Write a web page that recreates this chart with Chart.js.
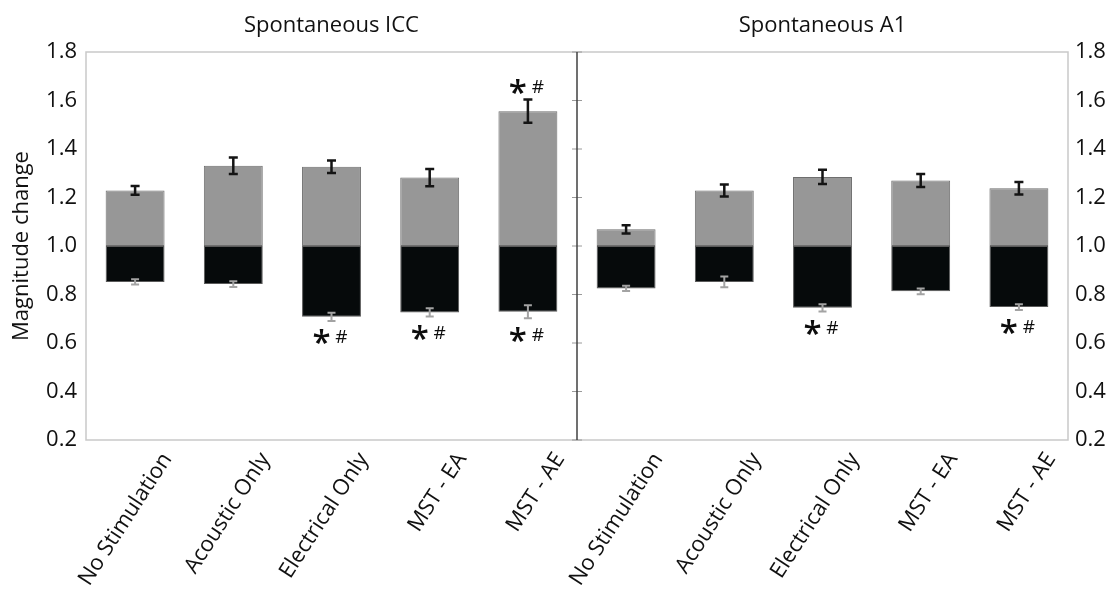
<!DOCTYPE html>
<html><head><meta charset="utf-8">
<script src="https://cdn.jsdelivr.net/npm/chart.js@4"></script>
<style>html,body{margin:0;padding:0;background:#fff;overflow:hidden;}</style>
</head><body>
<canvas id="c" width="1117" height="603"></canvas>
<script>
const categories = ["No Stimulation","Acoustic Only","Electrical Only","MST - EA","MST - AE"];
const panelTitles = ["Spontaneous ICC","Spontaneous A1"];
const iccIncrease    = [1.229,1.331,1.327,1.282,1.556];
const iccIncreaseErr = [0.018,0.034,0.026,0.036,0.048];
const iccDecrease    = [0.852,0.843,0.708,0.726,0.729];
const iccDecreaseErr = [0.011,0.012,0.017,0.017,0.027];
const a1Increase     = [1.069,1.229,1.285,1.270,1.238];
const a1IncreaseErr  = [0.017,0.025,0.029,0.027,0.026];
const a1Decrease     = [0.825,0.852,0.745,0.813,0.748];
const a1DecreaseErr  = [0.011,0.022,0.015,0.012,0.012];
const iccSigIncrease = [false,false,false,false,true];
const iccSigDecrease = [false,false,true,true,true];
const a1SigIncrease  = [false,false,false,false,false];
const a1SigDecrease  = [false,false,true,false,true];
const yTicks = [0.2,0.4,0.6,0.8,1.0,1.2,1.4,1.6,1.8];
const baseline = 1.0;
const yTitle = "Magnitude change";

const FONT = "'Open Sans', 'Noto Sans', sans-serif";
const TEXT = '#111111';
const allLabels = categories.concat(categories);
const incAll = iccIncrease.concat(a1Increase);
const incErrAll = iccIncreaseErr.concat(a1IncreaseErr);
const decAll = iccDecrease.concat(a1Decrease);
const decErrAll = iccDecreaseErr.concat(a1DecreaseErr);
const sigIncAll = iccSigIncrease.concat(a1SigIncrease);
const sigDecAll = iccSigDecrease.concat(a1SigDecrease);

function drawSig(ctx, x, y) {
  ctx.save();
  ctx.fillStyle = '#0d0d0d';
  ctx.textAlign = 'center';
  ctx.textBaseline = 'alphabetic';
  ctx.font = "600 33px " + FONT;
  let m = ctx.measureText('*');
  ctx.fillText('*', x - 10, y + (m.actualBoundingBoxAscent - m.actualBoundingBoxDescent) / 2);
  ctx.font = "19px " + FONT;
  m = ctx.measureText('#');
  ctx.fillText('#', x + 10, y + (m.actualBoundingBoxAscent - m.actualBoundingBoxDescent) / 2);
  ctx.restore();
}

const overlay = {
  id: 'overlay',
  beforeDatasetsDraw(chart) {
    const ctx = chart.ctx, a = chart.chartArea;
    const xs = chart.scales.x, ys = chart.scales.y;
    ctx.save();
    ctx.strokeStyle = '#c9c9c9';
    ctx.lineWidth = 1.5;
    ctx.strokeRect(a.left, a.top, a.right - a.left, a.bottom - a.top);
    const xd = (xs.getPixelForValue(4) + xs.getPixelForValue(5)) / 2;
    ctx.strokeStyle = '#9a9a9a';
    ctx.lineWidth = 1;
    yTicks.forEach(v => {
      const yy = ys.getPixelForValue(v);
      ctx.beginPath(); ctx.moveTo(xd - 5, yy); ctx.lineTo(xd + 5, yy); ctx.stroke();
    });
    ctx.strokeStyle = '#404040';
    ctx.lineWidth = 1.5;
    ctx.beginPath(); ctx.moveTo(xd, a.top); ctx.lineTo(xd, a.bottom); ctx.stroke();
    ctx.fillStyle = TEXT;
    ctx.font = "22px " + FONT;
    ctx.textAlign = 'center';
    ctx.textBaseline = 'middle';
    ctx.fillText(panelTitles[0], (a.left + xd) / 2, 26);
    ctx.fillText(panelTitles[1], (xd + a.right) / 2, 26);
    ctx.restore();
  },
  afterDatasetsDraw(chart) {
    const ctx = chart.ctx;
    const xs = chart.scales.x, ys = chart.scales.y;
    ctx.save();
    for (let k = 0; k < allLabels.length; k++) {
      const x = xs.getPixelForValue(k);
      let yTop = ys.getPixelForValue(incAll[k] + incErrAll[k]);
      let yBot = ys.getPixelForValue(incAll[k] - incErrAll[k]);
      ctx.strokeStyle = '#141414'; ctx.lineWidth = 2.5;
      ctx.beginPath();
      ctx.moveTo(x, yTop); ctx.lineTo(x, yBot);
      ctx.moveTo(x - 4.5, yTop); ctx.lineTo(x + 4.5, yTop);
      ctx.moveTo(x - 4.5, yBot); ctx.lineTo(x + 4.5, yBot);
      ctx.stroke();
      const upEnd = yTop;
      yTop = ys.getPixelForValue(decAll[k] + decErrAll[k]);
      yBot = ys.getPixelForValue(decAll[k] - decErrAll[k]);
      ctx.strokeStyle = '#a3a3a3'; ctx.lineWidth = 2;
      ctx.beginPath();
      ctx.moveTo(x, yTop); ctx.lineTo(x, yBot);
      ctx.moveTo(x - 4, yTop); ctx.lineTo(x + 4, yTop);
      ctx.moveTo(x - 4, yBot); ctx.lineTo(x + 4, yBot);
      ctx.stroke();
      if (sigIncAll[k]) drawSig(ctx, x, upEnd - 13);
      if (sigDecAll[k]) drawSig(ctx, x, yBot + 16);
    }
    ctx.restore();
  }
};

const yCommon = {
  min: 0.2, max: 1.8,
  afterBuildTicks: s => { s.ticks = yTicks.map(v => ({ value: v })); },
  grid: { display: false, drawTicks: false },
  border: { display: false },
};

new Chart(document.getElementById('c'), {
  type: 'bar',
  data: {
    labels: allLabels,
    datasets: [
      {
        label: 'Increase',
        data: incAll.map(v => [baseline, v]),
        backgroundColor: '#979797',
        borderColor: '#6e6e6e',
        borderWidth: 1,
        borderSkipped: false,
        grouped: false,
        barPercentage: 0.6,
        categoryPercentage: 1.0
      },
      {
        label: 'Decrease',
        data: decAll.map(v => [v, baseline]),
        backgroundColor: '#060a0b',
        borderColor: '#5a5a5a',
        borderWidth: 1,
        borderSkipped: false,
        grouped: false,
        barPercentage: 0.6,
        categoryPercentage: 1.0
      }
    ]
  },
  options: {
    responsive: false,
    animation: false,
    devicePixelRatio: 1,
    layout: { padding: { top: 52, left: 0, right: 0, bottom: 0 } },
    plugins: { legend: { display: false }, tooltip: { enabled: false } },
    scales: {
      x: {
        type: 'category',
        grid: { display: false, drawTicks: false },
        border: { display: false },
        ticks: {
          autoSkip: false, minRotation: 57, maxRotation: 57,
          padding: 8, labelOffset: 32,
          color: TEXT, font: { family: FONT, size: 22 }
        },
        afterFit: s => { s.height = 163; }
      },
      y: Object.assign({}, yCommon, {
        position: 'left',
        ticks: { padding: 9, color: TEXT, font: { family: FONT, size: 22 }, callback: v => Number(v).toFixed(1) },
        title: { display: true, text: yTitle, color: TEXT, font: { family: FONT, size: 22 }, padding: { top: 9, bottom: 0 } },
        afterFit: s => { s.width = 86; }
      }),
      y2: Object.assign({}, yCommon, {
        position: 'right',
        ticks: { padding: 7, color: TEXT, font: { family: FONT, size: 22 }, callback: v => Number(v).toFixed(1) },
        afterFit: s => { s.width = 49; }
      })
    }
  },
  plugins: [overlay]
});
</script>
</body></html>
